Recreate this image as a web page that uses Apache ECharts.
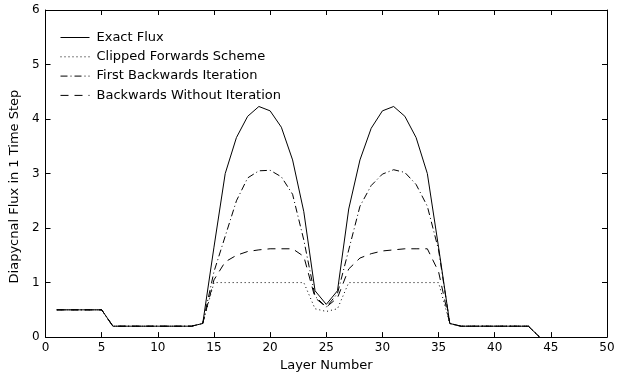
<!DOCTYPE html>
<html>
<head>
<meta charset="utf-8">
<script src="https://cdn.jsdelivr.net/npm/echarts@6/dist/echarts.min.js"></script>
<style>
html,body{margin:0;padding:0;background:#fff;}
#chart{width:621px;height:377px;}
</style>
</head>
<body>
<div id="chart"></div>
<script>
// Layer numbers
var layers = [1,2,3,4,5,6,7,8,9,10,11,12,13,14,15,16,17,18,19,20,21,22,23,24,25,26,27,28,29,30,31,32,33,34,35,36,37,38,39,40,41,42,43,44];
// Exact Flux
var exactFlux = [0.5,0.5,0.5,0.5,0.5,0.2,0.2,0.2,0.2,0.2,0.2,0.2,0.2,0.25,1.65,3.0,3.66,4.05,4.23,4.15,3.85,3.25,2.3,0.85,0.6,0.85,2.35,3.25,3.83,4.15,4.23,4.05,3.66,3.0,1.65,0.25,0.2,0.2,0.2,0.2,0.2,0.2,0.2,0];
// Clipped Forwards Scheme
var clippedForwards = [0.5,0.5,0.5,0.5,0.5,0.2,0.2,0.2,0.2,0.2,0.2,0.2,0.2,0.25,1.0,1.0,1.0,1.0,1.0,1.0,1.0,1.0,1.0,0.52,0.47,0.52,1.0,1.0,1.0,1.0,1.0,1.0,1.0,1.0,1.0,0.25,0.2,0.2,0.2,0.2,0.2,0.2,0.2,0];
// First Backwards Iteration
var firstBackwards = [0.5,0.5,0.5,0.5,0.5,0.2,0.2,0.2,0.2,0.2,0.2,0.2,0.2,0.25,1.2,1.85,2.5,2.92,3.05,3.06,2.94,2.62,1.78,0.75,0.55,0.8,1.6,2.4,2.78,2.99,3.07,3.02,2.8,2.4,1.6,0.25,0.2,0.2,0.2,0.2,0.2,0.2,0.2,0];
// Backwards Without Iteration
var backwardsNoIter = [0.5,0.5,0.5,0.5,0.5,0.2,0.2,0.2,0.2,0.2,0.2,0.2,0.2,0.25,1.05,1.38,1.5,1.57,1.6,1.62,1.62,1.62,1.48,0.72,0.55,0.72,1.25,1.45,1.53,1.58,1.6,1.62,1.62,1.62,1.2,0.25,0.2,0.2,0.2,0.2,0.2,0.2,0.2,0];

var seriesNames = ['Exact Flux','Clipped Forwards Scheme','First Backwards Iteration','Backwards Without Iteration'];
var xTicks = {min:0, max:50, interval:5};
var yTicks = {min:0, max:6, interval:1};

function pairs(vals){ return layers.map(function(x,i){ return [x, vals[i]]; }); }

var FONT = 'DejaVu Sans';
var chart = echarts.init(document.getElementById('chart'));
function axisCommon(){
  return {
    axisLine:{show:true, onZero:false, lineStyle:{color:'#000', width:1}},
    axisTick:{show:true, inside:true, length:5, lineStyle:{color:'#000', width:1}},
    splitLine:{show:false}
  };
}
var xBottom = Object.assign(axisCommon(), {
  type:'value', position:'bottom', min:xTicks.min, max:xTicks.max, interval:xTicks.interval,
  axisLabel:{color:'#000', fontSize:12, fontFamily:FONT, margin:5},
  name:'Layer Number', nameLocation:'middle', nameGap:17,
  nameTextStyle:{color:'#000', fontSize:13, fontFamily:FONT}
});
var xTop = Object.assign(axisCommon(), {
  type:'value', position:'top', min:xTicks.min, max:xTicks.max, interval:xTicks.interval,
  axisLabel:{show:false}
});
var yLeft = Object.assign(axisCommon(), {
  type:'value', position:'left', min:yTicks.min, max:yTicks.max, interval:yTicks.interval,
  axisLabel:{color:'#000', fontSize:12, fontFamily:FONT, margin:6},
  name:'Diapycnal Flux in 1 Time Step', nameLocation:'middle', nameGap:20,
  nameTextStyle:{color:'#000', fontSize:13, fontFamily:FONT, padding:[0,26,0,0]}
});
var yRight = Object.assign(axisCommon(), {
  type:'value', position:'right', min:yTicks.min, max:yTicks.max, interval:yTicks.interval,
  axisLabel:{show:false}
});
var styles = [
  {type:'solid'},
  {type:[1,3]},
  {type:[7,3,1,3]},
  {type:[8,6]}
];
var dataSets = [exactFlux, clippedForwards, firstBackwards, backwardsNoIter];
var series = seriesNames.map(function(n,i){
  return {
    name:n, type:'line', xAxisIndex:0, yAxisIndex:0,
    data:pairs(dataSets[i]), symbol:'none', showSymbol:false, animation:false,
    lineStyle:{color:'#000', width:1, type:styles[i].type}, itemStyle:{color:'#000'},
    z: 10-i
  };
});
chart.setOption({
  animation:false,
  backgroundColor:'#fff',
  grid:{left:40, right:14, top:10, bottom:33, containLabel:false},
  xAxis:[xBottom, xTop],
  yAxis:[yLeft, yRight],
  legend:{
    orient:'vertical', left:55, top:26, itemWidth:29, itemHeight:12, itemGap:6.3,
    data:seriesNames,
    itemStyle:{opacity:0},
    lineStyle:{width:1},
    textStyle:{color:'#000', fontSize:13, lineHeight:13, fontFamily:FONT, padding:[0,0,0,2]},
    inactiveColor:'#000'
  },
  series:series
});
</script>
</body>
</html>
